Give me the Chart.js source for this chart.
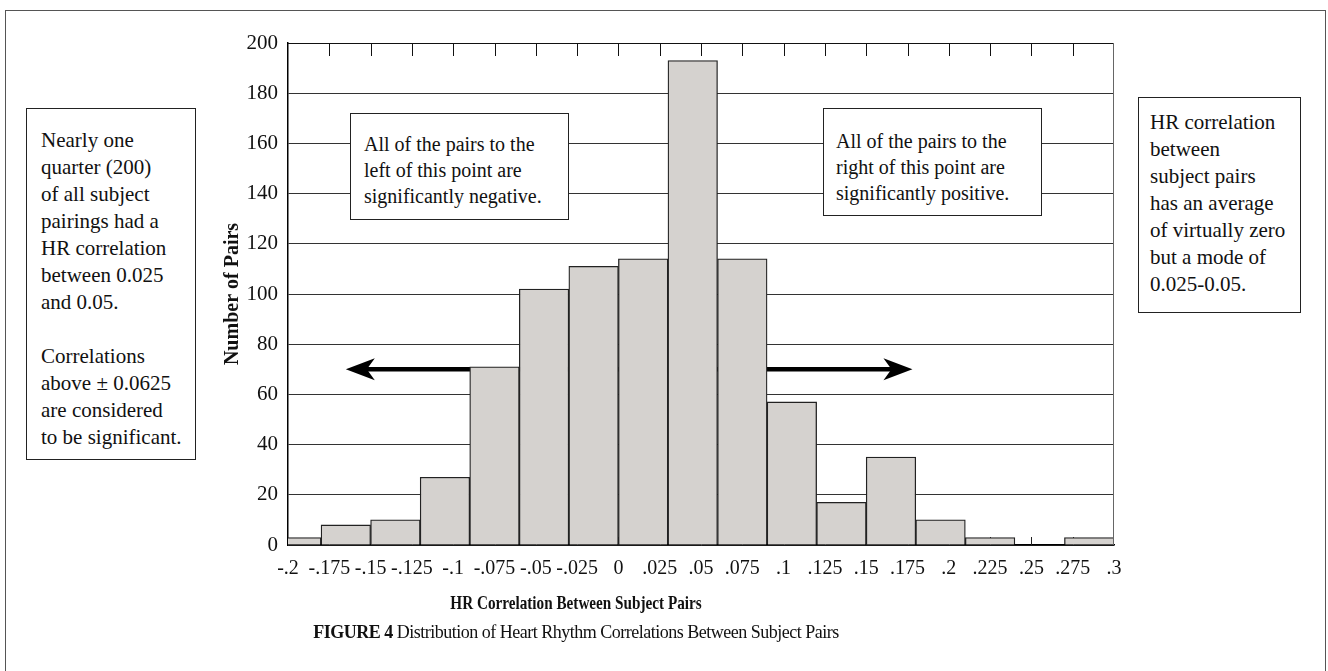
<!DOCTYPE html>
<html>
<head>
<meta charset="utf-8">
<script src="https://cdn.jsdelivr.net/npm/chart.js@4.4.0/dist/chart.umd.min.js"></script>
<style>
  body { margin: 0; background: #fff; }
  #wrap { position: relative; width: 1328px; height: 671px; overflow: hidden; font-family: 'Liberation Serif', serif; color: #111; }
  #frame { position: absolute; left: 5px; top: 10px; width: 1319px; height: 700px; border: 1px solid #555; }
  canvas { position: absolute; left: 0; top: 0; }
  .box { position: absolute; background: #fff; border: 1px solid #222; line-height: 27px; white-space: nowrap; box-sizing: border-box; }
  .inner { font-size: 20px; line-height: 26px; }
  .outer { font-size: 21px; }
  #xTitle { position: absolute; top: 592px; left: 376px; width: 400px; text-align: center; font-weight: bold; font-size: 19px; transform: scaleX(0.8); }
  #caption { position: absolute; top: 622px; left: 176px; width: 800px; text-align: center; font-size: 18px; letter-spacing: -0.5px; }
</style>
</head>
<body>
<div id="wrap">
  <div id="frame"></div>
  <canvas id="histChart" width="1328" height="671"></canvas>
  <div class="box outer" style="left:26px; top:108px; width:170px; height:352px; padding:18px 0 0 14px;">
    Nearly one<br>quarter (200)<br>of all subject<br>pairings had a<br>HR correlation<br>between 0.025<br>and 0.05.<br><br>Correlations<br>above ± 0.0625<br>are considered<br>to be significant.
  </div>
  <div class="box outer" style="left:1138px; top:97px; width:163px; height:216px; padding:11px 0 0 11px;">
    HR correlation<br>between<br>subject pairs<br>has an average<br>of virtually zero<br>but a mode of<br>0.025-0.05.
  </div>
  <div class="box inner" style="left:350px; top:113px; width:219px; height:107px; padding:17px 0 0 13px;">
    All of the pairs to the<br>left of this point are<br>significantly negative.
  </div>
  <div class="box inner" style="left:823px; top:108px; width:219px; height:108px; padding:19px 0 0 12px;">
    All of the pairs to the<br>right of this point are<br>significantly positive.
  </div>
  <div id="xTitle">HR Correlation Between Subject Pairs</div>
  <div id="caption"><b>FIGURE 4</b> Distribution of Heart Rhythm Correlations Between Subject Pairs</div>
</div>
<script>
// histogram bins (width .03), clipped at -.2 on the left
const binCenters = [-0.195, -0.165, -0.135, -0.105, -0.075, -0.045, -0.015, 0.015, 0.045, 0.075, 0.105, 0.135, 0.165, 0.195, 0.225, 0.255, 0.285];
const pairCounts = [3, 8, 10, 27, 71, 102, 111, 114, 193, 114, 57, 17, 35, 10, 3, 0, 3];
const binWidth = 0.03;

const xTickValues = [-0.2, -0.175, -0.15, -0.125, -0.1, -0.075, -0.05, -0.025, 0, 0.025, 0.05, 0.075, 0.1, 0.125, 0.15, 0.175, 0.2, 0.225, 0.25, 0.275, 0.3];
const xTickLabels = ['-.2', '-.175', '-.15', '-.125', '-.1', '-.075', '-.05', '-.025', '0', '.025', '.05', '.075', '.1', '.125', '.15', '.175', '.2', '.225', '.25', '.275', '.3'];
const yTicks = [0, 20, 40, 60, 80, 100, 120, 140, 160, 180, 200];

// arrows pointing away from the middle (data coords)
const arrowY = 70;
const arrowLeftTip = -0.165;
const arrowRightTip = 0.178;

const serif = "'Liberation Serif', serif";

function drawArrow(ctx, x0, x1, y) {
    const dir = x1 > x0 ? 1 : -1;
    ctx.save();
    ctx.strokeStyle = '#000';
    ctx.fillStyle = '#000';
    ctx.lineWidth = 4.5;
    ctx.beginPath();
    ctx.moveTo(x0, y);
    ctx.lineTo(x1 - dir * 20, y);
    ctx.stroke();
    ctx.beginPath();
    ctx.moveTo(x1, y);
    ctx.lineTo(x1 - dir * 29, y - 11);
    ctx.lineTo(x1 - dir * 21, y);
    ctx.lineTo(x1 - dir * 29, y + 11);
    ctx.closePath();
    ctx.fill();
    ctx.restore();
}

const plotMarks = {
    id: 'plotMarks',
    beforeDatasetsDraw(chart) {
        const { ctx, chartArea: a, scales: { x, y } } = chart;
        // small inside ticks on the bottom axis (bars cover them)
        ctx.save();
        ctx.strokeStyle = '#222';
        ctx.lineWidth = 1;
        xTickValues.slice(1, -1).forEach(v => {
            const px = Math.round(x.getPixelForValue(v)) + 0.5;
            ctx.beginPath();
            ctx.moveTo(px, a.bottom);
            ctx.lineTo(px, a.bottom - 8);
            ctx.stroke();
        });
        ctx.restore();
        const zero = x.getPixelForValue(0);
        const py = y.getPixelForValue(arrowY);
        drawArrow(ctx, zero, x.getPixelForValue(arrowLeftTip), py);
        drawArrow(ctx, zero, x.getPixelForValue(arrowRightTip), py);
    },
    afterDatasetsDraw(chart) {
        const { ctx, chartArea: a, scales: { x } } = chart;
        ctx.save();
        ctx.lineWidth = 1;
        ctx.strokeStyle = '#111';
        ctx.beginPath();
        ctx.moveTo(a.left, a.top + 0.5);
        ctx.lineTo(a.right, a.top + 0.5);
        ctx.stroke();
        xTickValues.slice(1, -1).forEach(v => {
            const px = Math.round(x.getPixelForValue(v)) + 0.5;
            ctx.beginPath();
            ctx.moveTo(px, a.top);
            ctx.lineTo(px, a.top + 13);
            ctx.stroke();
        });
        ctx.strokeStyle = '#666';
        ctx.beginPath();
        ctx.moveTo(a.right - 0.5, a.top);
        ctx.lineTo(a.right - 0.5, a.bottom);
        ctx.stroke();
        ctx.restore();
    }
};

const ctx = document.getElementById('histChart').getContext('2d');
new Chart(ctx, {
    type: 'bar',
    data: {
        datasets: [{
            data: binCenters.map((c, i) => ({ x: c, y: pairCounts[i] })),
            xAxisID: 'xb',
            backgroundColor: '#d5d2cf',
            borderColor: '#222',
            borderWidth: 1.3,
            barPercentage: 1,
            categoryPercentage: 1
        }]
    },
    options: {
        responsive: false,
        animation: false,
        devicePixelRatio: 1,
        layout: { padding: { left: 210, right: 214, top: 43, bottom: 76 } },
        plugins: { legend: { display: false }, tooltip: { enabled: false } },
        scales: {
            xb: {
                type: 'linear',
                display: false,
                offset: false,
                min: -0.2,
                max: 0.3,
                afterBuildTicks: s => {
                    s.ticks = binCenters.map(c => ({ value: c - binWidth / 2 }))
                        .concat([{ value: binCenters[binCenters.length - 1] + binWidth / 2 }]);
                }
            },
            x: {
                type: 'linear',
                position: 'bottom',
                offset: false,
                min: -0.2,
                max: 0.3,
                afterBuildTicks: s => { s.ticks = xTickValues.map(v => ({ value: v })); },
                afterFit: s => { s.height = 50; },
                grid: { display: false, offset: false },
                border: { display: true, color: '#000', width: 1.5 },
                ticks: {
                    autoSkip: false,
                    maxRotation: 0,
                    padding: 4,
                    color: '#111',
                    font: { family: serif, size: 20 },
                    callback: (v, i) => xTickLabels[i]
                }
            },
            y: {
                min: 0,
                max: 200,
                afterBuildTicks: s => { s.ticks = yTicks.map(v => ({ value: v })); },
                afterFit: s => { s.width = 78; },
                grid: { color: '#333', lineWidth: 1, drawTicks: false },
                border: { display: true, color: '#000', width: 1.5 },
                ticks: {
                    padding: 10,
                    color: '#111',
                    font: { family: serif, size: 21 }
                },
                title: {
                    display: true,
                    text: 'Number of Pairs',
                    color: '#111',
                    font: { family: serif, size: 20, weight: 'bold' },
                    padding: { top: 11, bottom: 0 }
                }
            }
        }
    },
    plugins: [plotMarks]
});
</script>
</body>
</html>
